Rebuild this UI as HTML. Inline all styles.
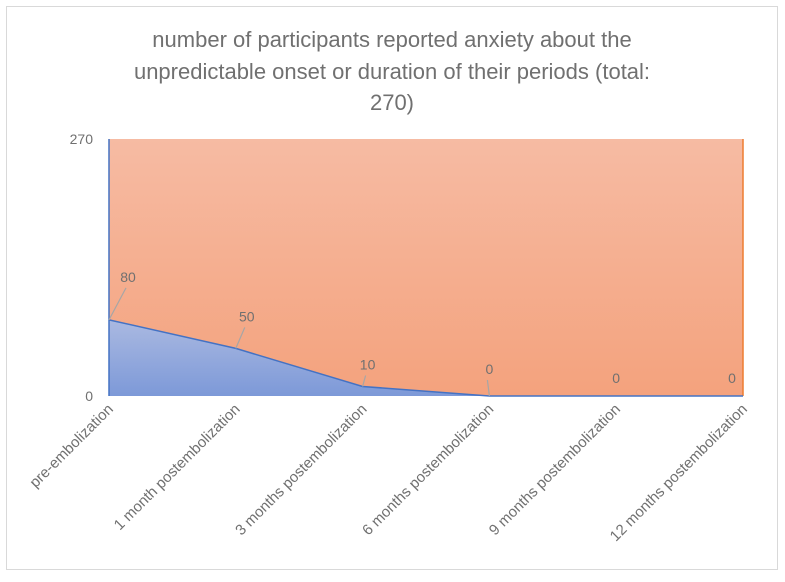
<!DOCTYPE html>
<html><head><meta charset="utf-8"><style>
body{margin:0;background:#fff;}
svg text{font-family:"Liberation Sans",sans-serif;fill:#707070;}
</style></head><body>
<svg id="c" width="785" height="577" viewBox="0 0 785 577">
<defs>
<linearGradient id="go" x1="0" y1="0" x2="0" y2="1"><stop offset="0" stop-color="#f6bba3"/><stop offset="1" stop-color="#f4a27d"/></linearGradient>
<linearGradient id="gb" x1="0" y1="0" x2="0" y2="1"><stop offset="0" stop-color="#aab9e1"/><stop offset="1" stop-color="#7d99d8"/></linearGradient>
</defs>
<rect x="6.5" y="6.5" width="771" height="563" fill="#fff" stroke="#d9d9d9"/>
<text x="392" y="47" font-size="22" text-anchor="middle" fill="#7a7a7a">number of participants reported anxiety about the</text>
<text x="392" y="79" font-size="22" text-anchor="middle">unpredictable onset or duration of their periods (total:</text>
<text x="392" y="110" font-size="22" text-anchor="middle">270)</text>
<g id="plot"></g>
</svg>
<script>
const categories=["pre-embolization","1 month postembolization","3 months postembolization","6 months postembolization","9 months postembolization","12 months postembolization"];
const anxious=[80,50,10,0,0,0];
const total=[270,270,270,270,270,270];
const yTicks=[0,270];
const x0=109,x1=743,y0=396,y1=139,yMax=270;
const X=i=>x0+i*(x1-x0)/(categories.length-1);
const Y=v=>y0-v/yMax*(y0-y1);
const NS="http://www.w3.org/2000/svg";
const g=document.getElementById('plot');
function mk(t,a){const e=document.createElementNS(NS,t);for(const k in a)e.setAttribute(k,a[k]);g.appendChild(e);return e;}
let dO="M"+X(0)+","+Y(0);
categories.forEach((c,i)=>{dO+=" L"+X(i)+","+Y(total[i]);});
dO+=" L"+X(categories.length-1)+","+Y(0)+" Z";
const po=mk('path',{d:dO,fill:'url(#go)'});


const lo=mk('line',{x1:X(categories.length-1),y1:Y(0),x2:X(categories.length-1),y2:Y(total[5]),stroke:'#ed7d31','stroke-width':1.5});


let dB="M"+X(0)+","+Y(0);
anxious.forEach((v,i)=>{dB+=" L"+X(i)+","+Y(v);});
dB+=" L"+X(anxious.length-1)+","+Y(0)+" Z";
const pb=mk('path',{d:dB,fill:'url(#gb)'});


const le=mk('line',{x1:X(0),y1:Y(0),x2:X(0),y2:Y(total[0]),stroke:'#4472c4','stroke-width':1.5});


let dL="M"+X(0)+","+Y(anxious[0]);
anxious.forEach((v,i)=>{dL+=" L"+X(i)+","+Y(v);});
const pl=mk('path',{d:dL,fill:'none',stroke:'#4472c4','stroke-width':1.5});


yTicks.forEach(t=>{
  const e=mk('text',{x:93,y:Y(t)+5,'font-size':14,'text-anchor':'end'});e.textContent=t;
  
  
});
const off=[[19,-38],[11,-27],[5,-17],[0,-22],[0,-13],[-11,-13]];
anxious.forEach((v,i)=>{
  const px=X(i),py=Y(v),lx=px+off[i][0],ly=py+off[i][1];
  if(i<4){const l=mk('line',{x1:px,y1:py,x2:lx-2,y2:ly+6,stroke:'#a6a6a6','stroke-width':1.2});
    
    }
  const t=mk('text',{x:lx,y:ly,'font-size':14,'text-anchor':'middle'});t.textContent=v;
  
  
});
categories.forEach((c,i)=>{
  const x=X(i)+5,y=410;
  const t=mk('text',{x:x,y:y,'font-size':15,'text-anchor':'end',transform:'rotate(-45 '+x+' '+y+')'});t.textContent=c;
  
  
});
</script>
</body></html>
